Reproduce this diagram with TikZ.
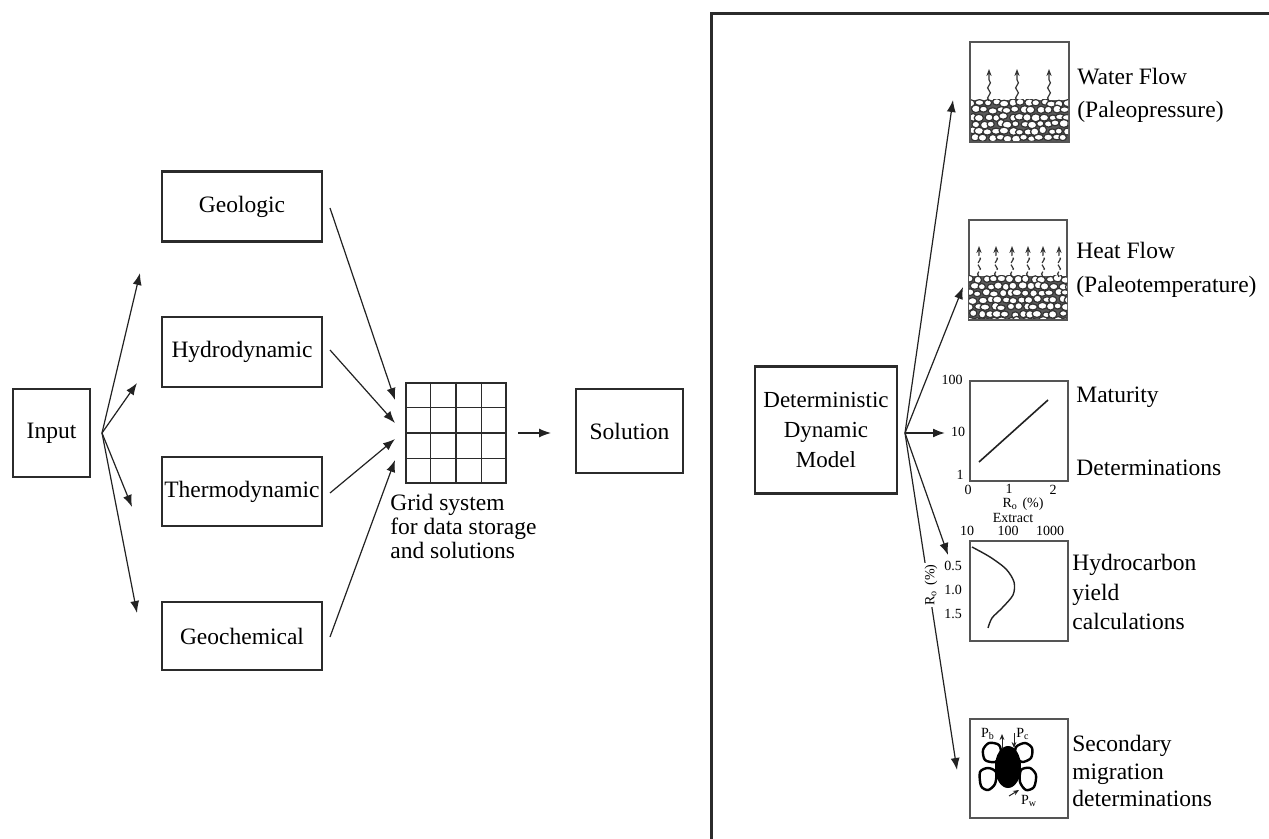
\documentclass[tikz,border=0pt]{standalone}
\usepackage{fontspec}
\setmainfont{Liberation Serif}
\usetikzlibrary{arrows.meta,decorations.pathmorphing,calc}
\definecolor{boxc}{HTML}{2B2B2B}
\definecolor{linec}{HTML}{222222}
\definecolor{pbc}{HTML}{555555}
\definecolor{rockc}{HTML}{333333}
\newcommand\myBig{\fontsize{11.75}{14}\selectfont}
\newcommand\mySmall{\fontsize{7}{8}\selectfont}
\begin{document}
\begin{tikzpicture}[x=0.5pt,y=-0.5pt,
  box/.style={draw=boxc,line width=1.3pt,inner sep=0pt,font=\myBig,text=black},
  pbox/.style={draw=pbc,line width=0.9pt,inner sep=0pt,minimum width=49pt,minimum height=50pt},
  arr/.style={line width=0.6pt,draw=linec,-{Latex[length=6pt,width=4.5pt]}},
  lab/.style={anchor=west,align=left,inner sep=0pt},
  num/.style={inner sep=0pt,font=\mySmall},
  grain/.style={fill=white,draw=black,line width=1.2pt},
  rock/.style={fill=white,draw=rockc,line width=0.6pt},
  wavy/.style={draw=rockc,line width=0.6pt,decorate,decoration={snake,amplitude=0.7pt,segment length=5pt,post length=4pt},-{Stealth[length=3.5pt,width=2.6pt]}}
 ]
\useasboundingbox (0,0) rectangle (1269,839);
\fill[white] (0,0) rectangle (1269,839);

% ---------------- left part ----------------
\node[box,minimum width=38.5pt,minimum height=44pt] (input) at (51.5,433) {Input};
\node[box,minimum width=80pt,minimum height=35pt] (geo) at (242,206.5) {Geologic};
\node[box,minimum width=80pt,minimum height=35pt] (hydro) at (242,352) {Hydrodynamic};
\node[box,minimum width=80pt,minimum height=34.5pt] (thermo) at (242,491.5) {Thermodynamic};
\node[box,minimum width=80pt,minimum height=34pt] (geochem) at (242,636) {Geochemical};
\node[box,minimum width=53.5pt,minimum height=42pt] (solution) at (629.5,431) {Solution};

\node[draw=boxc,line width=1pt,minimum size=50pt,inner sep=0pt] (grid) at (456,433) {};
\foreach \i in {1,2,3}{
  \draw[boxc,line width=0.8pt] ($(grid.north west)!\i/4!(grid.north east)$) -- ($(grid.south west)!\i/4!(grid.south east)$);
  \draw[boxc,line width=0.8pt] ($(grid.north west)!\i/4!(grid.south west)$) -- ($(grid.north east)!\i/4!(grid.south east)$);
}
\node[lab,anchor=north west,font=\fontsize{11.75}{12}\selectfont] (gridlab) at (390,494) {Grid system\\for data storage\\and solutions};

% fan from input
\coordinate (inF) at (102,433);
\coordinate (t1) at (140,273);
\coordinate (t2) at (137,383);
\coordinate (t3) at (132,507);
\coordinate (t4) at (137,613);
\foreach \t in {t1,t2,t3,t4}{\draw[arr] (inF) -- (\t);}

% into grid
\coordinate (g1) at (330,208);
\coordinate (g2) at (330,350);
\coordinate (g3) at (330,493);
\coordinate (g4) at (330,637);
\coordinate (h1) at (395,400);
\coordinate (h2) at (395,423);
\coordinate (h3) at (395,439);
\coordinate (h4) at (395,460);
\draw[arr] (g1) -- (h1);
\draw[arr] (g2) -- (h2);
\draw[arr] (g3) -- (h3);
\draw[arr] (g4) -- (h4);

\coordinate (gout) at (518,433);
\coordinate (solin) at (551,433);
\draw[arr] (gout) -- (solin);

% ---------------- right part ----------------
\draw[boxc,line width=1.5pt] (711,845) -- (711,14) -- (1275,14);

\node[box,minimum width=71pt,minimum height=63.5pt,align=center,font=\fontsize{11.5}{15}\selectfont] (det) at (826,430) {Deterministic\\Dynamic\\Model};

% plot boxes
\node[pbox,minimum width=49.5pt] (water) at (1019.5,92) {};
\node[pbox] (heat) at (1018,270) {};
\node[pbox] (mat) at (1019,431) {};
\node[pbox] (hc) at (1019,591) {};
\node[pbox,minimum height=49.5pt] (sec) at (1019,768.5) {};

% water-flow rocks
\pgfmathsetseed{3}
\begin{scope}
  \clip (971,100) rectangle (1068,141);
  \fill[gray!70!black] (971,100) rectangle (1068,141);
  \foreach \r in {0,...,5}{\foreach \c in {0,...,12}{
    \pgfmathsetmacro\xx{972+\c*8+mod(\r,2)*4+rand*1.5}
    \pgfmathsetmacro\yy{103+\r*7+rand*1.2}
    \pgfmathsetmacro\ra{2.1+0.35*rand}
    \pgfmathsetmacro\rb{1.7+0.3*rand}
    \draw[rock] (\xx,\yy) ellipse [x radius=\ra pt, y radius=\rb pt];
  }}
\end{scope}
\foreach \x in {989,1017,1049}{\draw[wavy] (\x,101) -- (\x,69);}

% heat-flow rocks
\begin{scope}
  \clip (969,276) rectangle (1067,319);
  \fill[gray!70!black] (969,276) rectangle (1067,319);
  \foreach \r in {0,...,6}{\foreach \c in {0,...,12}{
    \pgfmathsetmacro\xx{970+\c*8+mod(\r,2)*4+rand*1.5}
    \pgfmathsetmacro\yy{279+\r*7+rand*1.2}
    \pgfmathsetmacro\ra{2.1+0.35*rand}
    \pgfmathsetmacro\rb{1.7+0.3*rand}
    \draw[rock] (\xx,\yy) ellipse [x radius=\ra pt, y radius=\rb pt];
  }}
\end{scope}
\foreach \x in {979,996,1012,1028,1043,1059}{\draw[wavy,dash pattern=on 3pt off 1pt] (\x,277) -- (\x,246);}

% maturity plot
\draw[linec,line width=0.8pt] (979,462) -- (1048,400);
\node[num] (m100) at (952,380) {100};
\node[num] (m10) at (958,432) {10};
\node[num] (m1) at (960,475) {1};
\node[num] (mx0) at (968,490) {0};
\node[num] (mx1) at (1009,489) {1};
\node[num] (mx2) at (1053,490) {2};
\node[num] (mro) at (1023,504) {R\textsubscript{o}\,\,(\%)};
\node[num] (mext) at (1013,518) {Extract};

% hydrocarbon plot
\draw[linec,line width=0.7pt] plot[smooth] coordinates {(972,547) (990,557) (1006,569) (1014,582) (1013,595) (1002,608) (992,618) (988,628)};
\node[num] (h10) at (967,531) {10};
\node[num] (h100) at (1008,531) {100};
\node[num] (h1000) at (1050,531) {1000};
\node[num] (h05) at (953,566) {0.5};
\node[num] (h10b) at (953,590) {1.0};
\node[num] (h15) at (953,614) {1.5};

% secondary migration picture
\draw[grain] plot[smooth cycle] coordinates {(983,750) (989,743) (999,745) (1001,755) (995,762) (985,760)};
\draw[grain] plot[smooth cycle] coordinates {(1016,747) (1025,743) (1032,748) (1031,758) (1022,762) (1016,756)};
\draw[grain] plot[smooth cycle] coordinates {(980,772) (988,768) (996,772) (995,784) (988,790) (981,786)};
\draw[grain] plot[smooth cycle] coordinates {(1021,770) (1030,768) (1036,775) (1034,787) (1026,790) (1020,782)};
\fill[black] (1008,767) ellipse [x radius=6.5pt, y radius=10.5pt];
\node[num] (pb) at (988,734) {P\textsubscript{b}};
\node[num] (pc) at (1023,734) {P\textsubscript{c}};
\node[num] (pw) at (1029,801) {P\textsubscript{w}};
\coordinate (pba) at (1002,749);
\coordinate (pbb) at (1002,734);
\coordinate (pca) at (1014,733);
\coordinate (pcb) at (1014,748);
\coordinate (pwa) at (1009,796);
\coordinate (pwb) at (1019,790);
\draw[linec,line width=0.5pt,-{Stealth[length=3pt,width=2.4pt]}] (pba) -- (pbb);
\draw[linec,line width=0.5pt,-{Stealth[length=3pt,width=2.4pt]}] (pca) -- (pcb);
\draw[linec,line width=0.5pt,-{Stealth[length=3pt,width=2.4pt]}] (pwa) -- (pwb);

% fan from deterministic model
\coordinate (dF) at (905,433);
\coordinate (d1) at (953,100);
\coordinate (d2) at (963,287);
\coordinate (d3) at (945,433);
\coordinate (d4) at (948,555);
\coordinate (d5) at (957,770);
\draw[arr] (dF) -- (d1);
\draw[arr] (dF) -- (d2);
\draw[arr,line width=0.9pt] (dF) -- (d3);
\draw[arr] (dF) -- (d4);
\draw[arr] (dF) -- (d5);
\node[num,fill=white,inner sep=1pt,rotate=90] (hro) at (931,585) {R\textsubscript{o}\,\,(\%)};

% right labels
\node[lab,font=\fontsize{11.75}{16.5}\selectfont] (wl) at (1077,95.5) {Water Flow\\(Paleopressure)};
\node[lab,font=\fontsize{11.75}{17}\selectfont] (hl) at (1076,270) {Heat Flow\\(Paleotemperature)};
\node[lab,font=\myBig] (ml1) at (1076,397) {Maturity};
\node[lab,font=\myBig] (ml2) at (1076,468) {Determinations};
\node[lab,font=\fontsize{11.75}{14.75}\selectfont] (hcl) at (1072,592) {Hydrocarbon\\yield\\calculations};
\node[lab,font=\fontsize{11.75}{13.75}\selectfont] (sl) at (1072,771) {Secondary\\migration\\determinations};
\end{tikzpicture}
\end{document}
